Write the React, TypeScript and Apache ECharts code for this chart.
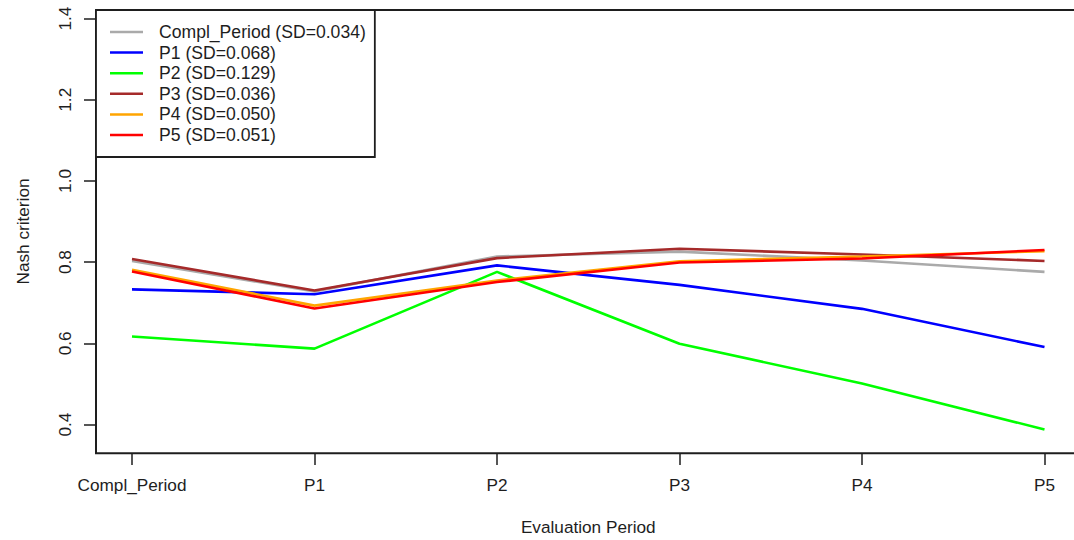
import React, { useEffect, useRef } from "react";
import * as echarts from "echarts";

const categories = ["Compl_Period", "P1", "P2", "P3", "P4", "P5"];
const yTicks = [0.4, 0.6, 0.8, 1.0, 1.2, 1.4];

const complPeriod = [0.803, 0.728, 0.814, 0.826, 0.804, 0.776];
const p1 = [0.733, 0.721, 0.792, 0.744, 0.685, 0.591];
const p2 = [0.617, 0.587, 0.776, 0.599, 0.501, 0.388];
const p3 = [0.808, 0.730, 0.810, 0.833, 0.819, 0.803];
const p4 = [0.781, 0.693, 0.755, 0.802, 0.814, 0.827];
const p5 = [0.777, 0.686, 0.751, 0.799, 0.809, 0.830];

const seriesNames = [
  "Compl_Period (SD=0.034)",
  "P1 (SD=0.068)",
  "P2 (SD=0.129)",
  "P3 (SD=0.036)",
  "P4 (SD=0.050)",
  "P5 (SD=0.051)",
];
const seriesData = [complPeriod, p1, p2, p3, p4, p5];
const seriesColors = ["#aaaaaa", "#0000ff", "#00ff00", "#a52a2a", "#ffa500", "#ff0000"];

const FONT = "'Liberation Sans', Arial, sans-serif";
const INK = "#1e1e1e";

export default function App() {
  const ref = useRef<HTMLDivElement>(null);
  useEffect(() => {
    if (!ref.current) return;
    const chart = echarts.init(ref.current, undefined, { renderer: "svg" });
    chart.setOption({
      animation: false,
      backgroundColor: "#ffffff",
      textStyle: { fontFamily: FONT },
      grid: { left: 132, right: 29.5, top: 10, bottom: 86.7 },
      legend: {
        left: 96,
        top: 10,
        orient: "vertical",
        icon: "rect",
        itemWidth: 33,
        itemHeight: 2.5,
        itemGap: 0,
        padding: [11.7, 9, 11.7, 14],
        borderColor: INK,
        borderWidth: 1.8,
        borderRadius: 0,
        backgroundColor: "#ffffff",
        selectedMode: false,
        textStyle: {
          fontFamily: FONT,
          fontSize: 17.6,
          lineHeight: 20.6,
          color: INK,
          padding: [0, 0, 0, 11],
        },
        data: seriesNames,
      },
      xAxis: {
        type: "category",
        data: categories,
        boundaryGap: false,
        axisLine: { show: false },
        axisTick: { show: true, length: 12, lineStyle: { color: INK, width: 1.5 } },
        axisLabel: { fontSize: 17.2, color: INK, margin: 23, fontFamily: FONT },
        splitLine: { show: false },
        name: "Evaluation Period",
        nameLocation: "middle",
        nameGap: 65,
        nameTextStyle: { fontSize: 17.2, color: INK, fontFamily: FONT },
      },
      yAxis: {
        type: "value",
        min: 0.33,
        max: 1.421,
        offset: 36,
        axisLine: { show: true, lineStyle: { color: INK, width: 2 } },
        axisTick: {
          show: true,
          length: 12,
          customValues: yTicks,
          lineStyle: { color: INK, width: 1.5 },
        },
        axisLabel: {
          customValues: yTicks,
          rotate: 90,
          fontSize: 17.2,
          color: INK,
          margin: 23,
          fontFamily: FONT,
          formatter: (v: number) => v.toFixed(1),
        },
        splitLine: { show: false },
        name: "Nash criterion",
        nameLocation: "middle",
        nameRotate: 90,
        nameGap: 65,
        nameTextStyle: { fontSize: 17.2, color: INK, fontFamily: FONT },
      },
      graphic: [
        {
          type: "line",
          shape: { x1: 96, y1: 10, x2: 1074, y2: 10 },
          style: { stroke: INK, lineWidth: 2 },
          z: 10,
        },
        {
          type: "line",
          shape: { x1: 95, y1: 453.3, x2: 1074, y2: 453.3 },
          style: { stroke: INK, lineWidth: 2 },
          z: 10,
        },
      ],
      series: seriesNames.map((name, i) => ({
        name,
        type: "line",
        data: seriesData[i],
        symbol: "none",
        color: seriesColors[i],
        lineStyle: { color: seriesColors[i], width: 2.6 },
        z: 2 + i,
      })),
    });
    return () => chart.dispose();
  }, []);
  return (
    <div
      ref={ref}
      style={{ position: "fixed", left: 0, top: 0, width: 1074, height: 540 }}
    />
  );
}
